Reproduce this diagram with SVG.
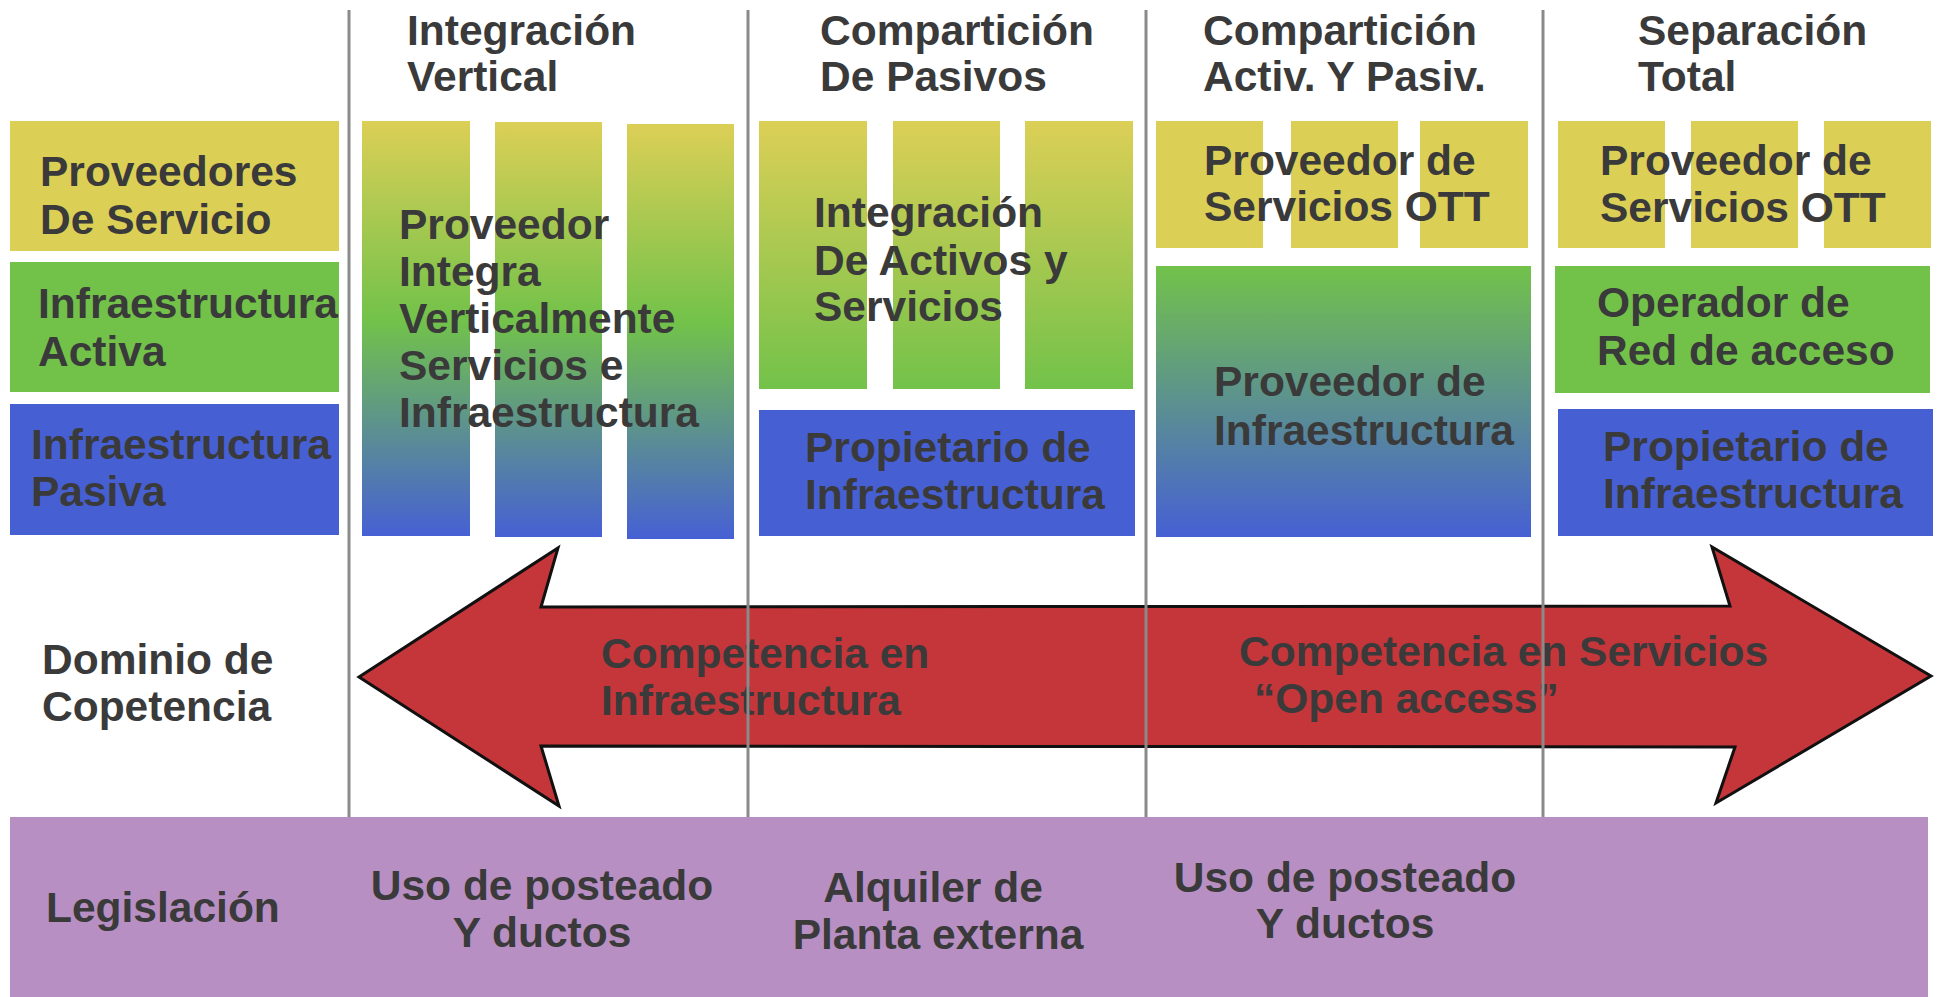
<svg xmlns="http://www.w3.org/2000/svg" width="1941" height="997" viewBox="0 0 1941 997">
<style>
text{font-family:"Liberation Sans",Arial,sans-serif;font-weight:bold;font-size:42.5px;fill:#3a3a3a}
.c{text-anchor:middle}
.y{fill:#dccf56}
.g{fill:#72c24a}
.b{fill:#4660d4}
.sep{stroke:#8a8a8a;stroke-width:3;fill:none}
</style>
<defs>
<linearGradient id="ygb" x1="0" y1="0" x2="0" y2="1">
<stop offset="0" stop-color="#dccf56"/>
<stop offset="0.48" stop-color="#72c24a"/>
<stop offset="1" stop-color="#4660d4"/>
</linearGradient>
<linearGradient id="yg" x1="0" y1="0" x2="0" y2="1">
<stop offset="0" stop-color="#dccf56"/>
<stop offset="1" stop-color="#72c24a"/>
</linearGradient>
<linearGradient id="gb" x1="0" y1="0" x2="0" y2="1">
<stop offset="0" stop-color="#72c24a"/>
<stop offset="1" stop-color="#4660d4"/>
</linearGradient>
</defs>
<rect width="1941" height="997" fill="#ffffff"/>

<g id="legend-servicio">
<rect class="y" x="10" y="121" width="329" height="130"/>
<text x="40" y="186">Proveedores</text>
<text x="40" y="234">De Servicio</text>
</g>
<g id="legend-activa">
<rect class="g" x="10" y="262" width="329" height="130"/>
<text x="38" y="318">Infraestructura</text>
<text x="38" y="366">Activa</text>
</g>
<g id="legend-pasiva">
<rect class="b" x="10" y="404" width="329" height="131"/>
<text x="31" y="459">Infraestructura</text>
<text x="31" y="506">Pasiva</text>
</g>

<g id="col-integracion">
<text x="407" y="45">Integración</text>
<text x="407" y="91">Vertical</text>
<rect x="362" y="121" width="108" height="415" fill="url(#ygb)"/>
<rect x="495" y="122" width="107" height="415" fill="url(#ygb)"/>
<rect x="627" y="124" width="107" height="415" fill="url(#ygb)"/>
<text x="399" y="239">Proveedor</text>
<text x="399" y="286">Integra</text>
<text x="399" y="333">Verticalmente</text>
<text x="399" y="380">Servicios e</text>
<text x="399" y="427">Infraestructura</text>
</g>

<g id="col-pasivos">
<text x="820" y="45">Compartición</text>
<text x="820" y="91">De Pasivos</text>
<rect x="759" y="121" width="108" height="268" fill="url(#yg)"/>
<rect x="893" y="121" width="107" height="268" fill="url(#yg)"/>
<rect x="1025" y="121" width="108" height="268" fill="url(#yg)"/>
<text x="814" y="227">Integración</text>
<text x="814" y="275">De Activos y</text>
<text x="814" y="321">Servicios</text>
<rect class="b" x="759" y="410" width="376" height="126"/>
<text x="805" y="462">Propietario de</text>
<text x="805" y="509">Infraestructura</text>
</g>

<g id="col-activ-pasiv">
<text x="1203" y="45">Compartición</text>
<text x="1203" y="91">Activ. Y Pasiv.</text>
<rect class="y" x="1156" y="121" width="107" height="127"/>
<rect class="y" x="1291" y="121" width="107" height="127"/>
<rect class="y" x="1420" y="121" width="108" height="127"/>
<text x="1204" y="175">Proveedor de</text>
<text x="1204" y="221">Servicios OTT</text>
<rect x="1156" y="266" width="375" height="271" fill="url(#gb)"/>
<text x="1214" y="396">Proveedor de</text>
<text x="1214" y="445">Infraestructura</text>
</g>

<g id="col-separacion">
<text x="1638" y="45">Separación</text>
<text x="1638" y="91">Total</text>
<rect class="y" x="1558" y="121" width="107" height="127"/>
<rect class="y" x="1691" y="121" width="107" height="127"/>
<rect class="y" x="1824" y="121" width="107" height="127"/>
<text x="1600" y="175">Proveedor de</text>
<text x="1600" y="222">Servicios OTT</text>
<rect class="g" x="1555" y="266" width="375" height="127"/>
<text x="1597" y="317">Operador de</text>
<text x="1597" y="365">Red de acceso</text>
<rect class="b" x="1558" y="409" width="375" height="127"/>
<text x="1603" y="461">Propietario de</text>
<text x="1603" y="508">Infraestructura</text>
</g>

<g id="dominio">
<text x="42" y="674">Dominio de</text>
<text x="42" y="721">Copetencia</text>
</g>

<g id="arrow">
<polygon points="359,677 558,548 541,607 1730,606 1712,547 1931,676 1716,803 1735,747 541,746 559,806" fill="#c4363a" stroke="#111111" stroke-width="3" stroke-linejoin="miter"/>
<text x="601" y="668">Competencia en</text>
<text x="601" y="715">Infraestructura</text>
<text x="1239" y="666">Competencia en Servicios</text>
<text x="1254" y="713">“Open access”</text>
</g>

<g id="connectors">
<line class="sep" x1="349" y1="10" x2="349" y2="817"/>
<line class="sep" x1="748" y1="10" x2="748" y2="817"/>
<line class="sep" x1="1146" y1="10" x2="1146" y2="817"/>
<line class="sep" x1="1543" y1="10" x2="1543" y2="817"/>
</g>

<g id="legislacion">
<rect x="10" y="817" width="1918" height="180" fill="#b78fc3"/>
<text x="46" y="922">Legislación</text>
<text class="c" x="542" y="900">Uso de posteado</text>
<text class="c" x="542" y="947">Y ductos</text>
<text class="c" x="933" y="902">Alquiler de</text>
<text class="c" x="938" y="949">Planta externa</text>
<text class="c" x="1345" y="892">Uso de posteado</text>
<text class="c" x="1345" y="938">Y ductos</text>
</g>
</svg>
